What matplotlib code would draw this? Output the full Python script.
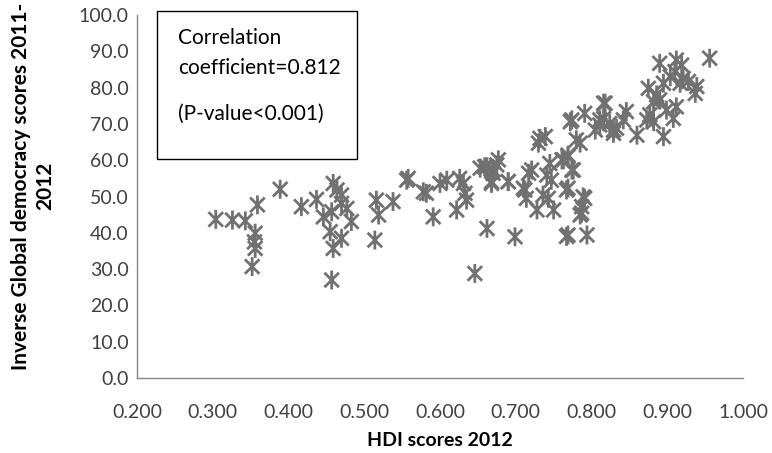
import matplotlib
matplotlib.use("Agg")
import matplotlib.pyplot as plt
from matplotlib.path import Path
from matplotlib.patches import Rectangle

plt.rcParams['font.family'] = ['Lato', 'DejaVu Sans']

# HDI scores 2012 (x) and inverse Global democracy scores 2011-2012 (y)
hdi = [0.304, 0.326, 0.343, 0.356, 0.355, 0.356, 0.352, 0.359, 0.389, 0.417,
       0.437, 0.459, 0.464, 0.470, 0.477, 0.457, 0.446, 0.483, 0.455, 0.470,
       0.459, 0.457, 0.470,
       0.558, 0.556, 0.516, 0.538, 0.519, 0.514, 0.578, 0.582, 0.591, 0.600,
       0.609, 0.626, 0.631, 0.633, 0.635, 0.622, 0.646, 0.662, 0.653, 0.659,
       0.675, 0.670, 0.668, 0.690, 0.699, 0.712,
       0.772, 0.732, 0.730, 0.739, 0.780, 0.785, 0.677, 0.662, 0.670, 0.690,
       0.668, 0.721, 0.717, 0.745, 0.761, 0.769, 0.774, 0.741, 0.747, 0.710,
       0.767, 0.714, 0.736, 0.743, 0.791, 0.787, 0.728, 0.750, 0.785, 0.767,
       0.794,
       0.956, 0.890, 0.912, 0.919, 0.910, 0.921, 0.917, 0.928, 0.939, 0.937,
       0.895, 0.875, 0.904, 0.886, 0.882, 0.890, 0.899, 0.912, 0.908, 0.877,
       0.873, 0.882, 0.895, 0.860, 0.846, 0.842, 0.818, 0.816, 0.824, 0.811,
       0.833, 0.829,
       0.774, 0.791, 0.816, 0.769, 0.776, 0.769, 0.789, 0.787, 0.769, 0.763,
       0.811, 0.805, 0.829]
dem = [43.7, 43.5, 43.3, 39.9, 37.5, 35.7, 30.7, 47.7, 52.0, 47.2,
       49.2, 53.6, 51.8, 50.4, 46.7, 45.8, 44.4, 43.1, 40.3, 38.5,
       35.7, 27.0, 48.1,
       55.0, 54.5, 49.0, 48.6, 44.9, 38.0, 51.3, 50.9, 44.4, 53.6,
       54.5, 55.0, 53.6, 50.9, 49.0, 46.3, 28.8, 41.2, 57.8, 58.2,
       58.7, 56.4, 53.6, 54.1, 38.9, 51.8,
       70.6, 66.0, 64.7, 66.5, 65.6, 64.7, 60.1, 58.2, 57.3, 54.1,
       54.1, 57.3, 56.4, 59.1, 60.1, 61.4, 57.3, 55.9, 54.5, 52.3,
       51.8, 49.5, 50.4, 49.5, 49.5, 47.2, 46.3, 46.3, 44.9, 39.0,
       39.4,
       88.1, 86.7, 87.6, 86.2, 84.4, 82.5, 81.2, 81.7, 80.3, 78.4,
       81.2, 79.8, 83.0, 78.0, 76.1, 76.6, 73.8, 74.7, 71.5, 72.5,
       71.1, 70.6, 66.5, 66.9, 73.4, 71.1, 75.7, 71.5, 70.1, 69.7,
       68.8, 67.4,
       71.1, 72.9, 75.7, 61.0, 57.3, 52.3, 49.9, 45.4, 39.4, 60.1,
       71.1, 68.3, 68.3]

x_ticks = [0.2, 0.3, 0.4, 0.5, 0.6, 0.7, 0.8, 0.9, 1.0]
y_ticks = [0, 10, 20, 30, 40, 50, 60, 70, 80, 90, 100]

# Excel-style asterisk marker: X plus vertical bar
verts = [(-1, -1), (1, 1), (-1, 1), (1, -1), (0, -1.3), (0, 1.3)]
codes = [Path.MOVETO, Path.LINETO, Path.MOVETO, Path.LINETO, Path.MOVETO, Path.LINETO]
star = Path(verts, codes)

fig = plt.figure(figsize=(7.72, 4.53), dpi=100)
ax = fig.add_axes([137/772, 1 - 378/453, (743 - 137)/772, (378 - 15)/453])

ax.scatter(hdi, dem, marker=star, s=185, facecolors='none',
           edgecolors='#717171', linewidths=2.0, zorder=3)

ax.set_xlim(0.2, 1.0)
ax.set_ylim(0, 100)
ax.set_xticks(x_ticks)
ax.set_yticks(y_ticks)
ax.set_xticklabels([f"{v:.3f}" for v in x_ticks], fontsize=14, color='#404040')
ax.set_yticklabels([f"{v:.1f}" for v in y_ticks], fontsize=14, color='#404040')
ax.tick_params(axis='x', length=0, pad=19)
ax.tick_params(axis='y', length=0, pad=6)
for s in ['top', 'right']:
    ax.spines[s].set_visible(False)
for s in ['left', 'bottom']:
    ax.spines[s].set_color('#868686')
    ax.spines[s].set_linewidth(1.0)

fig.text(440/772, 1 - 440/453, "HDI scores 2012", ha='center', va='center',
         fontsize=14, fontweight='bold', color='black')
fig.text(33/772, 1 - 186/453, "Inverse Global democracy scores 2011-\n2012",
         ha='center', va='center', rotation=90, fontsize=15,
         fontweight='bold', color='black', linespacing=1.25)

# Annotation box
fig.patches.append(Rectangle((157/772, 1 - 159/453), 200/772, 148/453,
                             transform=fig.transFigure, fill=True,
                             facecolor='white', edgecolor='black', linewidth=1.0,
                             zorder=5))
fig.text(178/772, 1 - 38/453, "Correlation", ha='left', va='center',
         fontsize=15, color='black', zorder=6)
fig.text(178/772, 1 - 68/453, "coefficient=0.812", ha='left', va='center',
         fontsize=15, color='black', zorder=6)
fig.text(178/772, 1 - 114/453, "(P-value<0.001)", ha='left', va='center',
         fontsize=15, color='black', zorder=6)

fig.savefig("out.png", dpi=100)
